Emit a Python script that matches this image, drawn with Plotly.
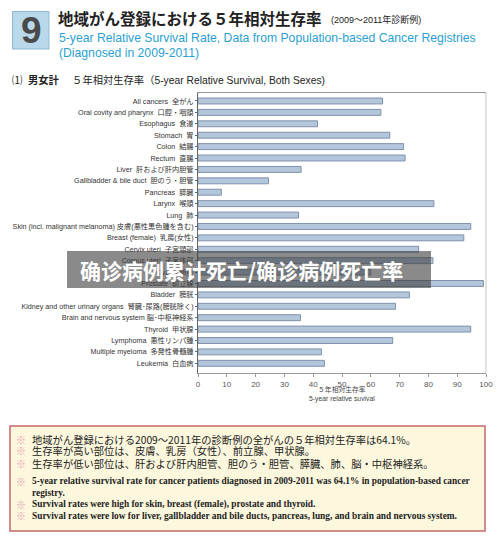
import plotly.graph_objects as go

categories = [
    "All cancers  全がん",
    "Oral covity and pharynx  口腔・咽頭",
    "Esophagus  食道",
    "Stomach  胃",
    "Colon  結腸",
    "Rectum  直腸",
    "Liver  肝および肝内胆管",
    "Gallbladder & bile duct  胆のう・胆管",
    "Pancreas  膵臓",
    "Larynx  喉頭",
    "Lung  肺",
    "Skin (incl. malignant melanoma) 皮膚(悪性黒色腫を含む)",
    "Breast (female)  乳房(女性)",
    "Cervix uteri  子宮頸部",
    "Corpus uteri  子宮体部",
    "Ovary  卵巣",
    "Prostate  前立腺",
    "Bladder  膀胱",
    "Kidney and other urinary organs  腎臓･尿路(膀胱除く)",
    "Brain and nervous system 脳･中枢神経系",
    "Thyroid  甲状腺",
    "Lymphoma  悪性リンパ腫",
    "Multiple myeloma  多発性骨髄腫",
    "Leukemia  白血病",
]
survival = [64.1, 63.5, 41.5, 66.6, 71.4, 71.9, 35.8, 24.5, 8.1, 81.9, 34.9, 94.7,
            92.3, 76.6, 81.6, 60.0, 99.1, 73.4, 68.6, 35.6, 94.7, 67.6, 42.9, 43.9]
x_ticks = list(range(0, 101, 10))

JP = "Liberation Sans, Noto Sans CJK JP"
W, H = 500, 540
L, R, T, B = 198, 486, 93, 373


def px(x):
    return (x - L) / (R - L)


def py(y):
    return (B - y) / (B - T)


fig = go.Figure()
fig.add_trace(go.Bar(
    x=survival, y=list(range(len(categories))), orientation="h",
    marker=dict(color="#b3c6db", line=dict(color="#7f92aa", width=1)),
    width=0.52, hoverinfo="x",
))

anns = []
shapes = []

# header box with 9
shapes.append(dict(type="rect", xref="paper", yref="paper",
                   x0=px(12.5), x1=px(49), y0=py(49), y1=py(11.5),
                   fillcolor="#b9d8ea", line=dict(color="#8fb9d3", width=1), layer="below"))
anns.append(dict(text="<b>9</b>", x=px(31), y=py(31), xref="paper", yref="paper",
                 showarrow=False, font=dict(family="Liberation Sans", size=37, color="#4a4a4a"),
                 xanchor="center", yanchor="middle"))
anns.append(dict(text="<b>地域がん登録における５年相対生存率</b>", x=px(56), y=py(18),
                 xref="paper", yref="paper", showarrow=False, xanchor="left", yanchor="middle",
                 font=dict(family="Noto Sans CJK JP", size=15.5, color="#222")))
anns.append(dict(text="(2009～2011年診断例)", x=px(329), y=py(19),
                 xref="paper", yref="paper", showarrow=False, xanchor="left", yanchor="middle",
                 font=dict(family=JP, size=9, color="#222")))
anns.append(dict(text="5-year Relative Survival Rate, Data from Population-based Cancer Registries",
                 x=px(56.5), y=py(37.5), xref="paper", yref="paper", showarrow=False,
                 xanchor="left", yanchor="middle",
                 font=dict(family="Liberation Sans", size=12.2, color="#2b9fd1")))
anns.append(dict(text="(Diagnosed in 2009-2011)",
                 x=px(56.5), y=py(53), xref="paper", yref="paper", showarrow=False,
                 xanchor="left", yanchor="middle",
                 font=dict(family="Liberation Sans", size=12.2, color="#2b9fd1")))
anns.append(dict(text="⑴  <b>男女計</b>　 ５年相対生存率（5-year Relative Survival, Both Sexes)",
                 x=px(10), y=py(80.5), xref="paper", yref="paper", showarrow=False,
                 xanchor="left", yanchor="middle",
                 font=dict(family=JP, size=10.3, color="#222")))

# axis title
anns.append(dict(text="５年相対生存率<br>5-year relative suvival", x=0.5, y=py(394),
                 xref="paper", yref="paper", showarrow=False, xanchor="center", yanchor="middle",
                 font=dict(family=JP, size=6.8, color="#444")))

# right border of frame
shapes.append(dict(type="line", xref="paper", yref="paper", x0=1, x1=1, y0=0, y1=1,
                   line=dict(color="#c4c4c4", width=1)))

# watermark overlay
shapes.append(dict(type="rect", xref="paper", yref="paper",
                   x0=px(67), x1=px(431), y0=py(288), y1=py(251),
                   fillcolor="rgba(60,60,60,0.6)", line=dict(width=0), layer="above"))
anns.append(dict(text="<b>确诊病例累计死亡/确诊病例死亡率</b>", x=px(241), y=py(269.5),
                 xref="paper", yref="paper", showarrow=False, xanchor="center", yanchor="middle",
                 font=dict(family="Noto Sans CJK SC", size=21, color="white")))

# bottom note box
shapes.append(dict(type="rect", xref="paper", yref="paper",
                   x0=px(10), x1=px(485), y0=py(531), y1=py(426),
                   fillcolor="#fdf8dd", line=dict(color="#c46a6a", width=1.5), layer="below"))

jp_lines = [
    ("地域がん登録における2009～2011年の診断例の全がんの５年相対生存率は64.1%。", 439),
    ("生存率が高い部位は、皮膚、乳房（女性）、前立腺、甲状腺。", 450.5),
    ("生存率が低い部位は、肝および肝内胆管、胆のう・胆管、膵臓、肺、脳・中枢神経系。", 463),
]
for t, y in jp_lines:
    anns.append(dict(text="※", x=px(14), y=py(y), xref="paper", yref="paper", showarrow=False,
                     xanchor="left", yanchor="middle",
                     font=dict(family="Noto Sans CJK JP", size=10, color="#e39ab0")))
    anns.append(dict(text=t, x=px(30), y=py(y), xref="paper", yref="paper", showarrow=False,
                     xanchor="left", yanchor="middle",
                     font=dict(family="Noto Sans CJK JP", size=10.3, color="#222")))

en_lines = [
    ("5-year relative survival rate for cancer patients diagnosed in 2009-2011 was 64.1% in population-based cancer", 481, True),
    ("registry.", 492.7, False),
    ("Survival rates were high for skin, breast (female), prostate and thyroid.", 504.3, True),
    ("Survival rates were low for liver, gallbladder and bile ducts, pancreas, lung, and brain and nervous system.", 515.7, True),
]
for t, y, mark in en_lines:
    if mark:
        anns.append(dict(text="※", x=px(14), y=py(y), xref="paper", yref="paper", showarrow=False,
                         xanchor="left", yanchor="middle",
                         font=dict(family="Noto Sans CJK JP", size=10, color="#e39ab0")))
    anns.append(dict(text="<b>" + t + "</b>", x=px(30), y=py(y), xref="paper", yref="paper",
                     showarrow=False, xanchor="left", yanchor="middle",
                     font=dict(family="Liberation Serif", size=9.35, color="#222")))

fig.update_layout(
    width=W, height=H,
    margin=dict(l=L, r=W - R, t=T, b=H - B, pad=0),
    paper_bgcolor="white", plot_bgcolor="white",
    showlegend=False,
    font=dict(family=JP, size=7, color="#333"),
    xaxis=dict(range=[0, 100], tickvals=x_ticks, ticktext=[str(v) for v in x_ticks],
               automargin=False,
               showgrid=False, zeroline=False, showline=True, linecolor="#999",
               mirror=True, ticks="outside", ticklen=3, tickcolor="#999",
               tickfont=dict(family="Liberation Sans", size=8, color="#555")),
    yaxis=dict(range=[23.85, -0.7], tickvals=list(range(len(categories))), ticktext=categories,
               automargin=False,
               showgrid=False, zeroline=False, showline=True, linecolor="#666",
               ticks="outside", ticklen=2, tickcolor="#666",
               tickfont=dict(family=JP, size=7.2, color="#333")),
    annotations=anns, shapes=shapes,
)

fig.write_html("out.html", config={"displayModeBar": False},
               post_script="document.body.style.margin='0';document.body.style.overflow='hidden';")
